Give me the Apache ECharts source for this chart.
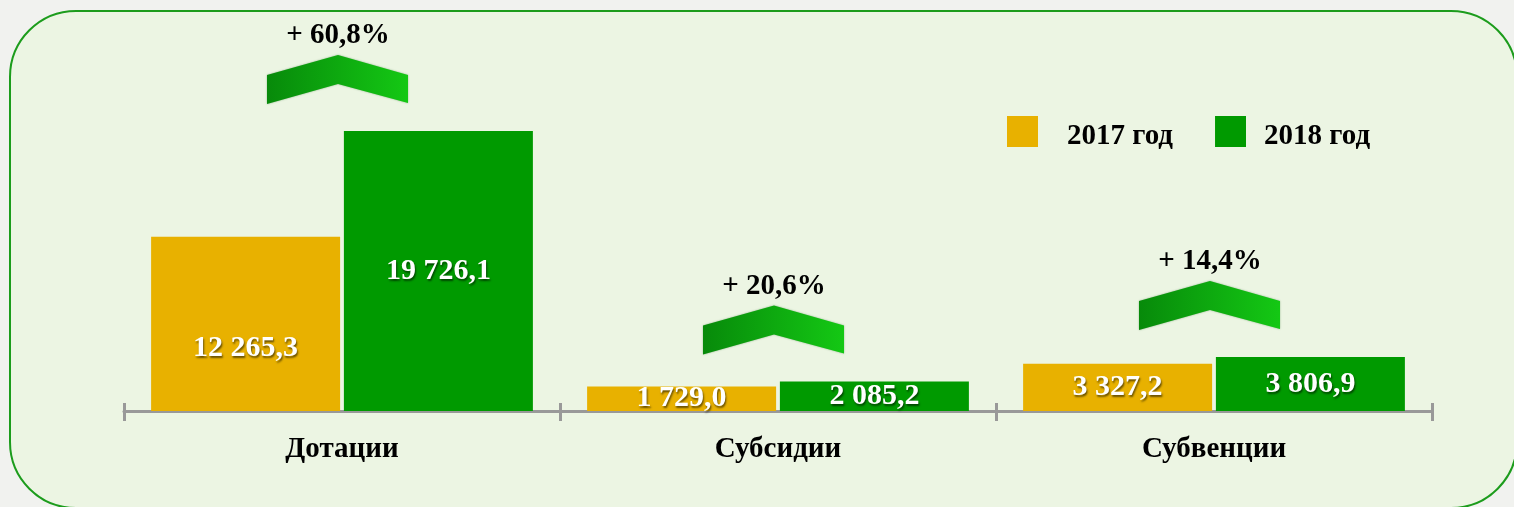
<!DOCTYPE html>
<html>
<head>
<meta charset="utf-8">
<script src="https://cdn.jsdelivr.net/npm/echarts@6/dist/echarts.min.js"></script>
<style>
    html, body { margin: 0; padding: 0; background: #f1f2ef; }
    #chart { width: 1514px; height: 507px; }
</style>
</head>
<body>
<div id="chart"></div>
<script>
var categories = ['Дотации', 'Субсидии', 'Субвенции'];
var values2017 = [12265.3, 1729.0, 3327.2];
var values2018 = [19726.1, 2085.2, 3806.9];
var growthLabels = ['+ 60,8%', '+ 20,6%', '+ 14,4%'];
var seriesNames = ['2017 год', '2018 год'];

var FONT = '"Liberation Serif", "Times New Roman", serif';

// 12265.3 -> "12 265,3"
function fmt(v) {
    var parts = v.toFixed(1).split('.');
    return parts[0].replace(/\B(?=(\d{3})+(?!\d))/g, ' ') + ',' + parts[1];
}

var valueLabel = {
    show: true,
    position: 'inside',
    color: '#fff',
    fontFamily: FONT,
    fontWeight: 'bold',
    fontSize: 30,
    textShadowColor: 'rgba(0,0,0,0.55)',
    textShadowOffsetX: 1,
    textShadowOffsetY: 2,
    textShadowBlur: 2,
    formatter: function (p) { return fmt(p.value); }
};

// chevron anchors: category index + top of the taller bar
var chevronData = categories.map(function (c, i) {
    return [i, Math.max(values2017[i], values2018[i]), growthLabels[i]];
});

var legendText = {
    fontFamily: FONT,
    fontWeight: 'bold',
    fontSize: 29,
    color: '#000'
};

var chart = echarts.init(document.getElementById('chart'));

var option = {
    animation: false,
    graphic: [{
        type: 'rect',
        silent: true,
        z: -10,
        shape: { x: 10, y: 11, width: 1507, height: 497, r: 66 },
        style: { fill: '#ecf5e3', stroke: '#1c9c1c', lineWidth: 2 }
    }],
    legend: {
        left: 1007,
        top: 116,
        padding: 0,
        itemWidth: 31,
        itemHeight: 31,
        itemGap: 42,
        icon: 'rect',
        data: seriesNames,
        formatter: function (name) {
            return (name === seriesNames[0] ? '{a|' : '{b|') + name + '}';
        },
        textStyle: {
            fontFamily: FONT,
            fontWeight: 'bold',
            fontSize: 29,
            color: '#000',
            rich: {
                a: Object.assign({ padding: [10, 0, 0, 24] }, legendText),
                b: Object.assign({ padding: [10, 0, 0, 13] }, legendText)
            }
        }
    },
    grid: { left: 124, right: 82, top: 127, bottom: 96 },
    xAxis: [{
        type: 'category',
        data: categories,
        axisLine: { lineStyle: { color: '#999', width: 3 } },
        axisTick: { show: true, length: 10, lineStyle: { color: '#999', width: 3 } },
        axisLabel: {
            margin: 24,
            fontFamily: FONT,
            fontWeight: 'bold',
            fontSize: 29,
            color: '#000'
        }
    }, {
        // inner half of the ticks
        type: 'category',
        data: categories,
        position: 'bottom',
        axisLine: { show: false },
        axisTick: { show: true, inside: true, length: 8, lineStyle: { color: '#999', width: 3 } },
        axisLabel: { show: false }
    }],
    yAxis: {
        type: 'value',
        min: 0,
        max: 20000,
        show: false,
        splitLine: { show: false }
    },
    series: [{
        name: seriesNames[0],
        type: 'bar',
        barWidth: 189,
        barGap: '2%',
        itemStyle: { color: '#e8b100' },
        label: valueLabel,
        data: values2017.map(function (v, i) {
            return i === 0 ? { value: v, label: { offset: [0, 24] } } : v;
        })
    }, {
        name: seriesNames[1],
        type: 'bar',
        barWidth: 189,
        itemStyle: { color: '#009a00' },
        label: valueLabel,
        data: values2018
    }, {
        type: 'custom',
        coordinateSystem: 'cartesian2d',
        silent: true,
        z: 5,
        data: chevronData,
        encode: { x: 0, y: 1 },
        renderItem: function (params, api) {
            var top = api.coord([api.value(0), api.value(1)]);
            var cx = top[0] - 4;
            var py = top[1] - 76;
            return {
                type: 'group',
                children: [{
                    type: 'polygon',
                    shape: {
                        points: [
                            [cx, py], [cx + 70, py + 20], [cx + 70, py + 48],
                            [cx, py + 29], [cx - 71, py + 49], [cx - 71, py + 20]
                        ]
                    },
                    style: {
                        fill: {
                            type: 'linear', x: 0, y: 0, x2: 1, y2: 0,
                            colorStops: [
                                { offset: 0, color: '#078a0a' },
                                { offset: 1, color: '#14c814' }
                            ]
                        },
                        shadowBlur: 2,
                        shadowColor: 'rgba(0,80,0,0.4)'
                    }
                }, {
                    type: 'text',
                    style: {
                        x: cx,
                        y: py - 19,
                        text: api.value(2),
                        align: 'center',
                        verticalAlign: 'middle',
                        fontFamily: FONT,
                        fontWeight: 'bold',
                        fontSize: 29,
                        fill: '#000'
                    }
                }]
            };
        }
    }]
};

chart.setOption(option);
</script>
</body>
</html>
